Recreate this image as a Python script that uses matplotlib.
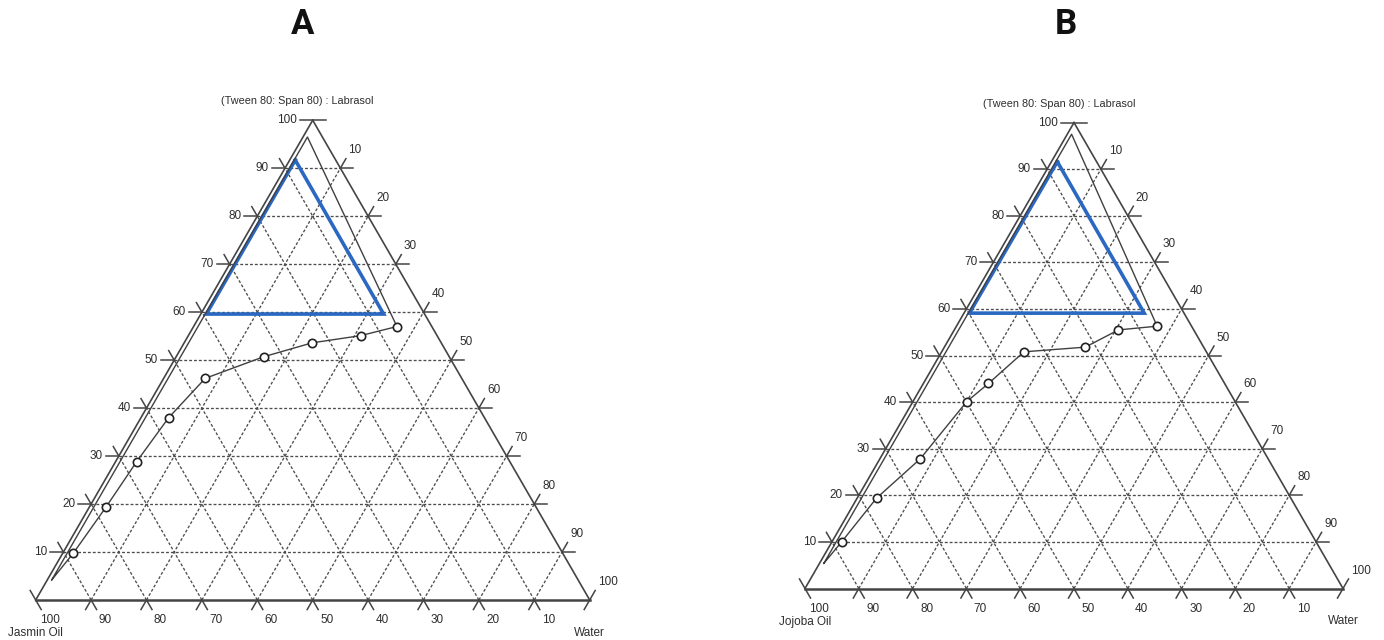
import numpy as np
import matplotlib.pyplot as plt

plt.rcParams['font.family'] = ['Liberation Sans', 'DejaVu Sans']

FIG_W, FIG_H = 1384, 640
H = np.sqrt(3) / 2

# phase boundary points, % Smix (Tween 80:Span 80 : Labrasol) and % water; oil is the rest
jasmin_smix = [9.7, 19.3, 28.8, 38.0, 46.2, 50.7, 53.6, 55.1, 57.0]
jasmin_water = [1.9, 3.0, 3.8, 5.0, 7.5, 15.8, 23.1, 31.1, 36.7]
jasmin_start = (4.2, 0.8)
jasmin_top = (96.5, 0.8)

jojoba_smix = [10.0, 19.4, 27.8, 40.1, 44.0, 50.8, 51.8, 55.5, 56.3]
jojoba_water = [1.8, 3.6, 7.5, 10.0, 12.1, 15.3, 26.2, 30.5, 37.3]
jojoba_start = (5.4, 0.8)
jojoba_top = (97.5, 0.8)

# selected region (blue triangle)
jasmin_sel_smix = [91.7, 59.6, 59.6]
jasmin_sel_water = [1.0, 1.0, 33.0]
jojoba_sel_smix = [91.6, 59.1, 59.1]
jojoba_sel_water = [1.1, 1.0, 33.5]

levels = list(range(10, 100, 10))
smix_title = '(Tween 80: Span 80) : Labrasol'

EDGE = '#444444'
GRID = '#4d4d4d'
TXT = '#2e2e2e'
BLUE = '#2b68c2'


def to_xy(smix, water):
    smix = np.asarray(smix, dtype=float)
    water = np.asarray(water, dtype=float)
    return water + smix / 2, smix * H


def make_ax(fig, ox, oy, side):
    # full-figure axes, triangle of width 100 with its oil corner at pixel (ox, oy)
    s = side / 100
    ax = fig.add_axes([0, 0, 1, 1])
    ax.set_xlim(-ox / s, (FIG_W - ox) / s)
    ax.set_ylim(-(FIG_H - oy) / s, oy / s)
    ax.axis('off')
    return ax, s


def draw_panel(ax, s, oil_name, smix, water, start, top, sel_smix, sel_water):
    dash = dict(ls=(0, (2.2, 1.5)), lw=0.95, color=GRID)
    for v in levels:
        ax.plot(*to_xy([v, v], [0, 100 - v]), **dash)
        ax.plot(*to_xy([0, 100 - v], [v, v]), **dash)
        ax.plot(*to_xy([0, 100 - v], [100 - v, 0]), **dash)

    # triangle sides
    ax.plot(*to_xy([0, 100], [0, 0]), color=EDGE, lw=1.2)
    ax.plot(*to_xy([0, 100], [100, 0]), color=EDGE, lw=1.2)
    ax.plot(*to_xy([0, 0], [0, 100]), color=EDGE, lw=1.8)

    tl = 13 / s
    sl = 11 / s
    tk = dict(color=EDGE, lw=1.1)
    fs = 8.5

    # left axis: Smix
    for v in levels + [100]:
        px, py = to_xy(v, 0)
        if v == 100:
            ax.plot([px - tl, px + tl], [py, py], **tk)
        else:
            ax.plot([px - tl, px], [py, py], **tk)
            ax.plot([px, px - 0.5 * sl], [py, py + H * sl], **tk)
        ax.text(px - tl - 3 / s, py, str(v), ha='right', va='center', fontsize=fs, color=TXT)

    # right axis: water
    for c in levels + [100]:
        px, py = to_xy(100 - c, c)
        if c == 100:
            ax.plot([px - 0.5 * sl, px + 0.5 * sl], [py - H * sl, py + H * sl], **tk)
        else:
            ax.plot([px, px + tl], [py, py], **tk)
            ax.plot([px, px + 0.5 * sl], [py, py + H * sl], **tk)
        ax.text(px + 8 / s, py + 18 / s, str(c), ha='left', va='center', fontsize=fs, color=TXT)

    # bottom axis: oil
    for a in levels + [100]:
        px, py = to_xy(0, 100 - a)
        if a == 100:
            ax.plot([px - 0.5 * sl, px + 0.5 * sl], [py + H * sl, py - H * sl], **tk)
        else:
            ax.plot([px - 0.5 * sl, px, px + 0.5 * sl], [py - H * sl, py, py - H * sl], **tk)
        ax.text(px + 14 / s, py - 20 / s, str(a), ha='center', va='center', fontsize=fs, color=TXT)

    ax.text(0, -33 / s, oil_name, ha='center', va='center', fontsize=fs, color=TXT)
    ax.text(100, -33 / s, 'Water', ha='center', va='center', fontsize=fs, color=TXT)
    ax.text(50 - 15 / s, 100 * H + 19 / s, smix_title, ha='center', va='center',
            fontsize=7.8, color=TXT)

    # selected region
    bx, by = to_xy(sel_smix + sel_smix[:1], sel_water + sel_water[:1])
    ax.plot(bx, by, color=BLUE, lw=2.6, solid_joinstyle='miter')

    # phase boundary, closed back along the oil-Smix side
    line_s = [start[0]] + smix + [top[0], start[0]]
    line_w = [start[1]] + water + [top[1], start[1]]
    ax.plot(*to_xy(line_s, line_w), color='#404040', lw=1.0)
    ax.plot(*to_xy(smix, water), ls='none', marker='o', ms=6, mfc='white',
            mec='#222222', mew=1.2)


fig = plt.figure(figsize=(FIG_W / 100, FIG_H / 100), dpi=100)

ax_a, s_a = make_ax(fig, 35.7, 600, 554)
draw_panel(ax_a, s_a, 'Jasmin Oil', jasmin_smix, jasmin_water, jasmin_start, jasmin_top,
           jasmin_sel_smix, jasmin_sel_water)

ax_b, s_b = make_ax(fig, 805, 588.5, 538)
draw_panel(ax_b, s_b, 'Jojoba Oil', jojoba_smix, jojoba_water, jojoba_start, jojoba_top,
           jojoba_sel_smix, jojoba_sel_water)

fig.text(303 / FIG_W, 1 - 25 / FIG_H, 'A', ha='center', va='center', fontsize=25,
         fontweight='bold', family=['Roboto', 'DejaVu Sans'], color='#111111')
fig.text(1066 / FIG_W, 1 - 25 / FIG_H, 'B', ha='center', va='center', fontsize=25,
         fontweight='bold', family=['Roboto', 'DejaVu Sans'], color='#111111')

fig.savefig('out.png', dpi=100)
